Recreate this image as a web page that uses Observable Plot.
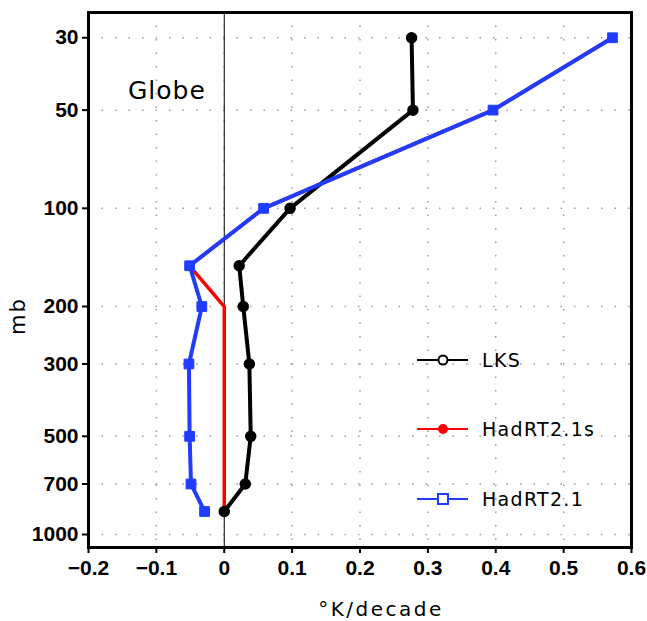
<!DOCTYPE html>
<html><head><meta charset="utf-8">
<script src="https://cdn.jsdelivr.net/npm/d3@7"></script>
<script src="https://cdn.jsdelivr.net/npm/@observablehq/plot@0.6"></script>
<style>body{margin:0;background:#fff} svg{display:block}</style>
</head><body><div id="chart"></div>
<script>
const levels = [30, 50, 100, 150, 200, 300, 500, 700, 850];
const lks = [0.276, 0.278, 0.097, 0.022, 0.028, 0.037, 0.039, 0.031, 0.0];
const hadrt21s = [0.572, 0.396, 0.058, -0.051, 0.0, 0.0, 0.0, 0.0, 0.0];
const hadrt21 = [0.572, 0.396, 0.058, -0.051, -0.033, -0.052, -0.051, -0.049, -0.029];
const seriesNames = ["LKS", "HadRT2.1s", "HadRT2.1"];
const seriesColors = ["#000000", "#ff0000", "#1f3cff"];
const xTicks = [-0.2, -0.1, 0, 0.1, 0.2, 0.3, 0.4, 0.5, 0.6];
const yTicks = [30, 50, 100, 200, 300, 500, 700, 1000];
const regionLabel = "Globe";
const xLabel = "°K/decade";
const yLabel = "mb";

const toRows = (vals) => levels.map((p, i) => ({p, v: vals[i]}));
const rLKS = toRows(lks), rS = toRows(hadrt21s), rH = toRows(hadrt21);

const grid = {stroke: "#999", strokeOpacity: 1, strokeWidth: 1.5, strokeDasharray: "1.5,12"};
const tickFont = {fontSize: 21, fontWeight: "bold", fontFamily: "Liberation Sans"};

const plot = Plot.plot({
  width: 647, height: 621,
  marginLeft: 88, marginRight: 16, marginTop: 12, marginBottom: 74,
  style: {fontFamily: "Liberation Sans", background: "#fff", color: "#000"},
  x: {domain: [-0.2, 0.6]},
  y: {type: "log", domain: [25.1, 1096], reverse: true},
  marks: [
    Plot.gridX(xTicks, grid),
    Plot.gridY(yTicks, grid),
    Plot.ruleX([0], {stroke: "#000", strokeWidth: 1}),
    Plot.line(rS, {x: "v", y: "p", stroke: seriesColors[1], strokeWidth: 3.5}),
    Plot.line(rLKS, {x: "v", y: "p", stroke: seriesColors[0], strokeWidth: 4}),
    Plot.dot(rLKS, {x: "v", y: "p", r: 5, fill: seriesColors[0], stroke: seriesColors[0]}),
    Plot.line(rH, {x: "v", y: "p", stroke: seriesColors[2], strokeWidth: 4}),
    Plot.dot(rH, {x: "v", y: "p", r: 5.5, symbol: "square", fill: seriesColors[2], stroke: seriesColors[2], strokeWidth: 1}),
    Plot.frame({stroke: "#000", strokeWidth: 3}),
    Plot.axisX(xTicks, {tickFormat: d3.format("~g"), tickSize: 6, tickPadding: 7, strokeWidth: 2, label: null, ...tickFont}),
    Plot.axisY(yTicks, {tickFormat: d => String(d), tickSize: 6, tickPadding: 4, strokeWidth: 2, label: null, ...tickFont})
  ]
});
document.getElementById("chart").appendChild(plot);

const svg = d3.select(plot);
const lf = "DejaVu Sans";
const txt = (sel) => sel.attr("font-family", lf).attr("font-weight", "normal").attr("fill", "#000");
txt(svg.append("text").attr("x", 128).attr("y", 99).attr("text-anchor", "start").text(regionLabel))
  .attr("font-size", 25).attr("letter-spacing", 1);
txt(svg.append("text").attr("x", 381).attr("y", 616).attr("text-anchor", "middle").text(xLabel))
  .attr("font-size", 20).attr("letter-spacing", 2.5);
txt(svg.append("text").attr("transform", "translate(25,316) rotate(-90)").attr("text-anchor", "middle").text(yLabel))
  .attr("font-size", 21).attr("letter-spacing", 2);

const legY = [360, 429, 499];
seriesNames.forEach((name, i) => {
  const g = svg.append("g");
  const c = seriesColors[i];
  g.append("line").attr("x1", 417).attr("x2", 468).attr("y1", legY[i]).attr("y2", legY[i]).attr("stroke", c).attr("stroke-width", 2.2);
  if (i === 0) g.append("circle").attr("cx", 443).attr("cy", legY[i]).attr("r", 4.5).attr("fill", "#fff").attr("stroke", c).attr("stroke-width", 2);
  if (i === 1) g.append("circle").attr("cx", 443).attr("cy", legY[i]).attr("r", 5).attr("fill", c);
  if (i === 2) g.append("rect").attr("x", 438).attr("y", legY[i] - 5).attr("width", 10).attr("height", 10).attr("fill", "#fff").attr("stroke", c).attr("stroke-width", 2);
  txt(g.append("text").attr("x", 482).attr("y", legY[i] + 7).attr("text-anchor", "start").text(name))
    .attr("font-size", 19).attr("letter-spacing", 1.3);
});
</script>
</body></html>
